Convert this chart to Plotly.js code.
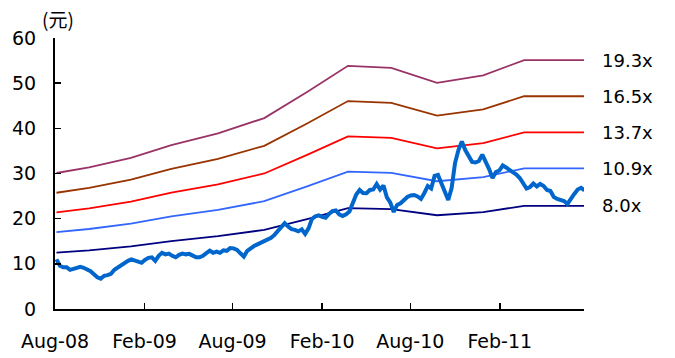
<!DOCTYPE html>
<html>
<head>
<meta charset="utf-8">
<script src="https://cdn.plot.ly/plotly-3.0.1.min.js"></script>
<style>
  html, body { margin: 0; padding: 0; background: #fff; }
  #chart { width: 675px; height: 358px; }
</style>
</head>
<body>
<div id="chart"></div>
<script>
// Weekly closing price (元)
const weekDates = [
  '2008-08-04','2008-08-11','2008-08-18','2008-08-25','2008-09-01','2008-09-08','2008-09-15','2008-09-22','2008-09-29','2008-10-06',
  '2008-10-13','2008-10-20','2008-10-27','2008-11-03','2008-11-10','2008-11-17','2008-11-24','2008-12-01','2008-12-08','2008-12-15',
  '2008-12-22','2008-12-29','2009-01-05','2009-01-12','2009-01-19','2009-01-26','2009-02-02','2009-02-09','2009-02-16','2009-02-23',
  '2009-03-02','2009-03-09','2009-03-16','2009-03-23','2009-03-30','2009-04-06','2009-04-13','2009-04-20','2009-04-27','2009-05-04',
  '2009-05-11','2009-05-18','2009-05-25','2009-06-01','2009-06-08','2009-06-15','2009-06-22','2009-06-29','2009-07-06','2009-07-13',
  '2009-07-20','2009-07-27','2009-08-03','2009-08-10','2009-08-17','2009-08-24','2009-08-31','2009-09-07','2009-09-14','2009-09-21',
  '2009-09-28','2009-10-05','2009-10-12','2009-10-19','2009-10-26','2009-11-02','2009-11-09','2009-11-16','2009-11-23','2009-11-30',
  '2009-12-07','2009-12-14','2009-12-21','2009-12-28','2010-01-04','2010-01-11','2010-01-18','2010-01-25','2010-02-01','2010-02-08',
  '2010-02-15','2010-02-22','2010-03-01','2010-03-08','2010-03-15','2010-03-22','2010-03-29','2010-04-05','2010-04-12','2010-04-19',
  '2010-04-26','2010-05-03','2010-05-10','2010-05-17','2010-05-24','2010-05-31','2010-06-07','2010-06-14','2010-06-21','2010-06-28',
  '2010-07-05','2010-07-12','2010-07-19','2010-07-26','2010-08-02','2010-08-09','2010-08-16','2010-08-23','2010-08-30','2010-09-06',
  '2010-09-13','2010-09-20','2010-09-27','2010-10-04','2010-10-11','2010-10-18','2010-10-25','2010-11-01','2010-11-08','2010-11-15',
  '2010-11-22','2010-11-29','2010-12-06','2010-12-13','2010-12-20','2010-12-27','2011-01-03','2011-01-10','2011-01-17','2011-01-24',
  '2011-01-31','2011-02-07','2011-02-14','2011-02-21','2011-02-28','2011-03-07','2011-03-14','2011-03-21','2011-03-28','2011-04-04',
  '2011-04-11','2011-04-18','2011-04-25','2011-05-02','2011-05-09','2011-05-16','2011-05-23','2011-05-30','2011-06-06','2011-06-13',
  '2011-06-20','2011-06-27','2011-07-04','2011-07-11','2011-07-18','2011-07-25'
];
const closePrice = [
  11.00, 9.57, 9.23, 9.23, 8.68, 8.90, 9.34, 9.34, 9.12, 8.79,
  8.35, 7.69, 7.02, 6.69, 7.36, 7.50, 7.80, 8.68, 9.23, 9.79,
  10.34, 10.67, 11.00, 10.78, 10.34, 10.23, 10.89, 11.33, 11.44, 10.67,
  11.77, 12.44, 12.10, 12.26, 11.77, 11.44, 11.99, 12.26, 12.10, 12.21,
  11.82, 11.44, 11.44, 11.77, 12.37, 12.92, 12.44, 12.70, 12.44, 12.99,
  12.88, 13.50, 13.43, 13.10, 12.33, 11.60, 12.88, 13.54, 13.94, 14.31,
  14.65, 15.02, 15.40, 15.75, 16.41, 17.30, 18.22, 19.00, 18.25, 17.67,
  17.52, 17.19, 17.63, 16.60, 17.85, 19.95, 20.50, 20.72, 20.39, 20.20,
  21.05, 21.65, 21.82, 20.94, 20.57, 20.94, 21.60, 23.26, 25.36, 26.35,
  25.69, 25.62, 26.35, 26.46, 27.68, 26.46, 27.35, 24.70, 23.55, 21.49,
  23.04, 23.42, 24.25, 24.81, 25.14, 25.25, 24.92, 24.37, 25.69, 27.24,
  26.68, 29.45, 29.67, 27.79, 25.69, 24.14, 26.79, 32.32, 35.19, 37.07,
  35.19, 33.64, 32.58, 32.43, 32.76, 34.19, 32.76, 30.99, 29.00, 30.33,
  30.66, 31.77, 31.32, 30.81, 30.33, 29.78, 29.00, 27.90, 26.68, 27.02,
  27.79, 27.13, 27.68, 27.24, 26.35, 26.13, 24.81, 24.37, 24.03, 23.92,
  23.26, 24.48, 25.47, 26.46, 26.84, 26.24
];

// Earnings per share used for the PE bands
const epsDates = [
  '2008-08-04','2008-10-10','2009-01-04','2009-03-28','2009-07-02','2009-10-05','2010-01-01',
  '2010-03-26','2010-06-23','2010-09-25','2010-12-29','2011-03-23','2011-07-25'
];
const epsValues = [1.560, 1.625, 1.735, 1.880, 2.015, 2.190, 2.490, 2.790, 2.765, 2.595, 2.680, 2.855, 2.855];

// PE multiples, their labels and line colours
const peMultiples = [19.3, 16.5, 13.7, 10.9, 8.0];
const bandLabels = ['19.3x', '16.5x', '13.7x', '10.9x', '8.0x'];
const bandColors = ['#993366', '#993300', '#FF0000', '#3366FF', '#000080'];

// Axis ticks
const xTickVals = ['2008-08-01', '2009-02-01', '2009-08-01', '2010-02-01', '2010-08-01', '2011-02-01'];
const yTickVals = [0, 10, 20, 30, 40, 50, 60];

const FONT = 'DejaVu Sans, Arial, sans-serif';

const traces = [];
const annotations = [];

peMultiples.forEach((pe, k) => {
  const band = epsValues.map(e => e * pe);
  traces.push({
    type: 'scatter', mode: 'lines',
    x: epsDates, y: band,
    line: { color: bandColors[k], width: 1.8 },
    hoverinfo: 'skip', showlegend: false
  });
  annotations.push({
    xref: 'paper', yref: 'y',
    x: 1, y: band[band.length - 1],
    xanchor: 'left', yanchor: 'middle', xshift: 16,
    text: bandLabels[k], showarrow: false,
    font: { family: FONT, size: 18, color: '#000' }
  });
});

traces.push({
  type: 'scatter', mode: 'lines',
  x: weekDates, y: closePrice,
  line: { color: '#0066CC', width: 4 },
  showlegend: false
});

annotations.push({
  xref: 'paper', yref: 'paper', x: 0, y: 1,
  xanchor: 'center', yanchor: 'middle', xshift: 3, yshift: 20,
  text: '(元)', showarrow: false,
  font: { family: 'Noto Sans CJK SC, sans-serif', size: 19, color: '#000' }
});

const layout = {
  width: 675, height: 358,
  margin: { l: 55, r: 91, t: 38, b: 49 },
  paper_bgcolor: '#fff', plot_bgcolor: '#fff',
  showlegend: false,
  xaxis: {
    type: 'date',
    range: ['2008-08-01', '2011-07-24'],
    tickvals: xTickVals, tickformat: '%b-%y',
    ticks: 'inside', ticklen: 6, tickwidth: 1.5, tickcolor: '#000',
    showline: true, linecolor: '#000', linewidth: 2,
    showgrid: false, zeroline: false,
    ticklabelstandoff: 14,
    tickfont: { family: FONT, size: 19, color: '#000' }
  },
  yaxis: {
    range: [0, 60],
    tickvals: yTickVals,
    ticks: 'inside', ticklen: 6, tickwidth: 1.5, tickcolor: '#000',
    showline: true, linecolor: '#000', linewidth: 2,
    showgrid: false, zeroline: false,
    ticklabelstandoff: 13,
    tickfont: { family: FONT, size: 19, color: '#000' }
  },
  annotations: annotations
};

Plotly.newPlot('chart', traces, layout, { staticPlot: true, displayModeBar: false });
</script>
</body>
</html>
